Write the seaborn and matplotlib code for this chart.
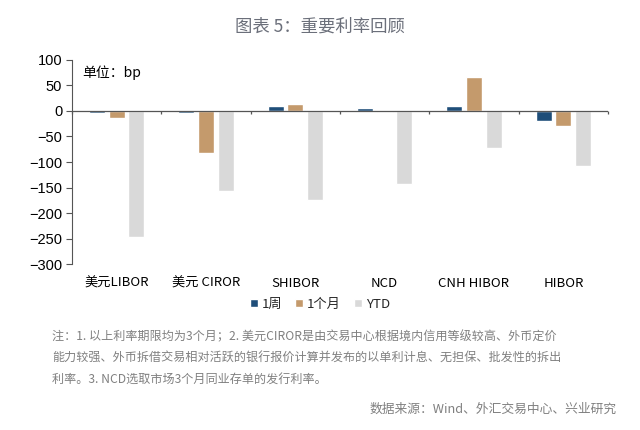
import numpy as np
import pandas as pd
import matplotlib
matplotlib.use("Agg")
import matplotlib.pyplot as plt
import seaborn as sns

categories = ["美元LIBOR", "美元 CIROR", "SHIBOR", "NCD", "CNH HIBOR", "HIBOR"]
series_names = ["1周", "1个月", "YTD"]
week_vals = [-3, -4, 10, 6, 9, -19]
month_vals = [-14, -82, 14, -1, 66, -30]
ytd_vals = [-247, -157, -175, -144, -72, -108]
colors = ["#1f4e79", "#c49a6c", "#d9d9d9"]
y_ticks = [100, 50, 0, -50, -100, -150, -200, -250, -300]

title = "图表 5：重要利率回顾"
unit_text = "单位：bp"
note_lines = [
    "注：1. 以上利率期限均为3个月；2. 美元CIROR是由交易中心根据境内信用等级较高、外币定价",
    "能力较强、外币拆借交易相对活跃的银行报价计算并发布的以单利计息、无担保、批发性的拆出",
    "利率。3. NCD选取市场3个月同业存单的发行利率。",
]
source_text = "数据来源：Wind、外汇交易中心、兴业研究"

rows = []
for name, vals in zip(series_names, [week_vals, month_vals, ytd_vals]):
    for c, v in zip(categories, vals):
        rows.append({"cat": c, "val": v, "series": name})
df = pd.DataFrame(rows)

sns.set_style("white")
plt.rcParams["font.family"] = ["Noto Sans CJK SC", "DejaVu Sans"]

fig = plt.figure(figsize=(6.4, 4.3), dpi=100)
ax = fig.add_axes([0.1125, 0.386, 0.8375, 0.4745])

sns.barplot(data=df, x="cat", y="val", hue="series", hue_order=series_names,
            order=categories, palette=colors, width=0.66, gap=0.18,
            saturation=1, ax=ax, legend=True)

ax.set_xlim(-0.5, len(categories) - 0.5)
ax.set_ylim(-300, 100)
ax.set_yticks(y_ticks)
ax.set_yticklabels([str(t).replace("-", "−") if t < 0 else str(t) for t in y_ticks],
                   fontsize=10.5, family=["Liberation Sans", "DejaVu Sans"], color="#000000")
ax.set_xlabel("")
ax.set_ylabel("")
ax.set_xticks(range(len(categories)))
ax.set_xticklabels(categories, fontsize=9.5, color="#000000")
ax.tick_params(axis="x", length=0, pad=9)
ax.tick_params(axis="y", length=4, width=0.8, color="#555555", direction="out", pad=3, left=True)

for s in ["top", "right", "bottom"]:
    ax.spines[s].set_visible(False)
ax.spines["left"].set_color("#555555")
ax.spines["left"].set_linewidth(0.8)

ax.axhline(0, color="#555555", lw=0.9, zorder=3)
bounds = np.arange(len(categories) + 1) - 0.5
ax.vlines(bounds, -6, 0, color="#555555", lw=0.9, zorder=3, clip_on=False)

ax.text(0.02, 0.975, unit_text, transform=ax.transAxes, fontsize=10,
        va="top", ha="left", color="#000000")

handles, labels = ax.get_legend_handles_labels()
ax.legend(handles, labels, loc="center", bbox_to_anchor=(0.5, 1 - 304 / 430),
          bbox_transform=fig.transFigure, ncol=3, frameon=False, fontsize=9.5,
          handlelength=0.6, handleheight=0.6, handletextpad=0.3, columnspacing=1.0)

fig.text(0.5, 1 - 27 / 430, title, ha="center", va="center", fontsize=12.5, color="#6b6f7a")

for i, line in enumerate(note_lines):
    fig.text(52 / 640, 1 - (337 + i * 21) / 430, line, ha="left", va="center",
             fontsize=8.7, color="#808080")
fig.text(617 / 640, 1 - 409 / 430, source_text, ha="right", va="center",
         fontsize=9.2, color="#808080")

fig.savefig("out.png", dpi=100)
